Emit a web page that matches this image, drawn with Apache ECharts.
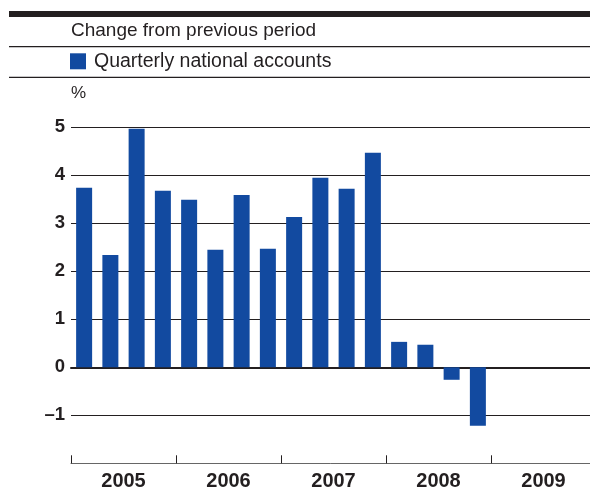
<!DOCTYPE html>
<html>
<head>
<meta charset="utf-8">
<script src="https://cdn.jsdelivr.net/npm/echarts@6/dist/echarts.min.js"></script>
<style>
html,body{margin:0;padding:0;background:#fff;}
#chart{width:590px;height:488px;}
</style>
</head>
<body>
<div id="chart"></div>
<script>
var years = ['2005', '2006', '2007', '2008', '2009'];
var quarters = ['2005 Q1','2005 Q2','2005 Q3','2005 Q4','2006 Q1','2006 Q2','2006 Q3','2006 Q4','2007 Q1','2007 Q2','2007 Q3','2007 Q4','2008 Q1','2008 Q2','2008 Q3','2008 Q4','2009 Q1','2009 Q2','2009 Q3','2009 Q4'];
var values = [3.74, 2.34, 4.97, 3.68, 3.49, 2.45, 3.59, 2.47, 3.13, 3.95, 3.72, 4.47, 0.53, 0.47, -0.26, -1.22, null, null, null, null];
var yTicks = [-2, -1, 0, 1, 2, 3, 4, 5];
var titleText = 'Change from previous period';
var legendText = 'Quarterly national accounts';
var unitText = '%';

var ink = '#231f20';
var barColor = '#124aa0';
var font = 'Liberation Sans, Arial, sans-serif';

var chart = echarts.init(document.getElementById('chart'), null, {renderer: 'canvas'});
chart.setOption({
  animation: false,
  backgroundColor: '#fff',
  grid: {left: 71, top: 127.3, width: 525, height: 336, outerBoundsMode: 'none', containLabel: false},
  xAxis: [
    {
      type: 'category', data: quarters, position: 'bottom',
      axisLine: {show: true, onZero: true, lineStyle: {color: ink, width: 2}},
      axisTick: {show: false}, axisLabel: {show: false}, splitLine: {show: false}, z: 1
    },
    {
      type: 'category', data: years, position: 'bottom',
      axisLine: {show: true, onZero: false, lineStyle: {color: '#666', width: 1}},
      axisTick: {show: true, inside: true, length: 8, lineStyle: {color: ink, width: 1}},
      axisLabel: {show: true, margin: 8, fontFamily: font, fontWeight: 'bold', fontSize: 20, color: ink},
      splitLine: {show: false}
    }
  ],
  yAxis: {
    type: 'value', min: yTicks[0], max: yTicks[yTicks.length - 1], interval: 1,
    axisLine: {show: false}, axisTick: {show: false},
    axisLabel: {
      margin: 6, fontFamily: font, fontWeight: 'bold', fontSize: 18.5, color: ink,
      formatter: function (v) { if (v === yTicks[0]) return ''; return v < 0 ? '\u2013' + Math.abs(v) : String(v); }
    },
    splitLine: {show: true, lineStyle: {color: ['rgba(0,0,0,0)', ink, ink, ink, ink, ink, ink, ink], width: 1}}
  },
  series: [{
    type: 'bar', xAxisIndex: 0, data: values, barWidth: 16,
    itemStyle: {color: barColor}, z: 2
  }],
  graphic: [
    {type: 'rect', shape: {x: 9, y: 11, width: 590, height: 6}, style: {fill: ink}},
    {type: 'line', shape: {x1: 9, y1: 46.7, x2: 590, y2: 46.7}, style: {stroke: ink, lineWidth: 1.2}},
    {type: 'line', shape: {x1: 9, y1: 77.3, x2: 590, y2: 77.3}, style: {stroke: ink, lineWidth: 1.2}},
    {type: 'text', x: 71, y: 31, style: {text: titleText, fill: ink, font: '19px ' + font, textVerticalAlign: 'middle'}},
    {type: 'rect', shape: {x: 70, y: 53.3, width: 16, height: 16}, style: {fill: barColor}},
    {type: 'text', x: 94, y: 62, style: {text: legendText, fill: ink, font: '19.5px ' + font, textVerticalAlign: 'middle'}},
    {type: 'text', x: 71, y: 93, style: {text: unitText, fill: ink, font: '17px ' + font, textVerticalAlign: 'middle'}}
  ]
});
</script>
</body>
</html>
